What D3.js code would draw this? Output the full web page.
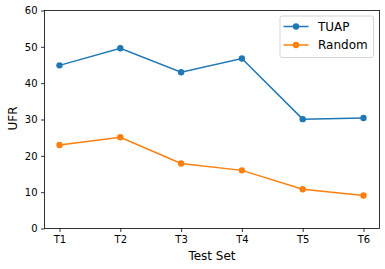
<!DOCTYPE html>
<html><head><meta charset="utf-8">
<script src="https://cdn.jsdelivr.net/npm/d3@7"></script>
<style>body{margin:0;background:#fff}svg{display:block;font-family:"DejaVu Sans",sans-serif}</style>
</head><body><svg id="c" width="385" height="269"></svg>
<script>
const categories = ["T1","T2","T3","T4","T5","T6"];
const tuap = [44.9, 49.6, 43.0, 46.8, 30.1, 30.4];
const random = [23.0, 25.1, 17.9, 16.0, 10.8, 9.1];
const yTicks = [0,10,20,30,40,50,60];
const seriesNames = ["TUAP","Random"];
const colors = ["#1f77b4","#ff7f0e"];

const svg = d3.select("#c");
const L=44.5, R=379.5, T=10.5, B=228.5;
const x = d3.scalePoint().domain(categories).range([59.5,363.5]);
const y = d3.scaleLinear().domain([0,60]).range([B,T]);

const data = [tuap, random];
data.forEach((vals,i)=>{
  const pts = vals.map((v,j)=>[x(categories[j]), y(v)]);
  svg.append("path").attr("d", d3.line()(pts)).attr("fill","none")
    .attr("stroke",colors[i]).attr("stroke-width",1.5);
  svg.selectAll(null).data(pts).enter().append("circle")
    .attr("cx",d=>d[0]).attr("cy",d=>d[1]).attr("r",3.2).attr("fill",colors[i]);
});

const xa = svg.append("g").attr("transform",`translate(0,${B})`)
  .call(d3.axisBottom(x).tickSize(3.5).tickPadding(3.5));
const ya = svg.append("g").attr("transform",`translate(${L},0)`)
  .call(d3.axisLeft(y).tickValues(yTicks).tickSize(3.5).tickPadding(3.5));
[xa,ya].forEach(a=>{
  a.select(".domain").remove();
  a.selectAll("text").attr("font-size",10).attr("fill","#000").attr("font-family","DejaVu Sans");
  a.selectAll("line").attr("stroke","#000").attr("stroke-width",0.8);
});
svg.append("rect").attr("x",L).attr("y",T).attr("width",R-L).attr("height",B-T)
  .attr("fill","none").attr("stroke","#000").attr("stroke-width",0.8);

svg.append("text").attr("x",(L+R)/2).attr("y",259.5).attr("text-anchor","middle")
  .attr("font-size",12).text("Test Set");
svg.append("text").attr("transform",`translate(17,118.5) rotate(-90)`)
  .attr("text-anchor","middle").attr("font-size",12).text("UFR");

const lg = svg.append("g");
lg.append("rect").attr("x",280).attr("y",16).attr("width",93.5).attr("height",41.5).attr("rx",2)
  .attr("fill","#fff").attr("fill-opacity",0.8).attr("stroke","#ccc").attr("stroke-width",0.8);
seriesNames.forEach((n,i)=>{
  const yy = 26.5 + i*18.5;
  lg.append("line").attr("x1",283.5).attr("x2",308.5).attr("y1",yy).attr("y2",yy)
    .attr("stroke",colors[i]).attr("stroke-width",1.5);
  lg.append("circle").attr("cx",296).attr("cy",yy).attr("r",3.2).attr("fill",colors[i]);
  lg.append("text").attr("x",318).attr("y",yy+4.3).attr("font-size",12).text(n);
});
</script></body></html>
